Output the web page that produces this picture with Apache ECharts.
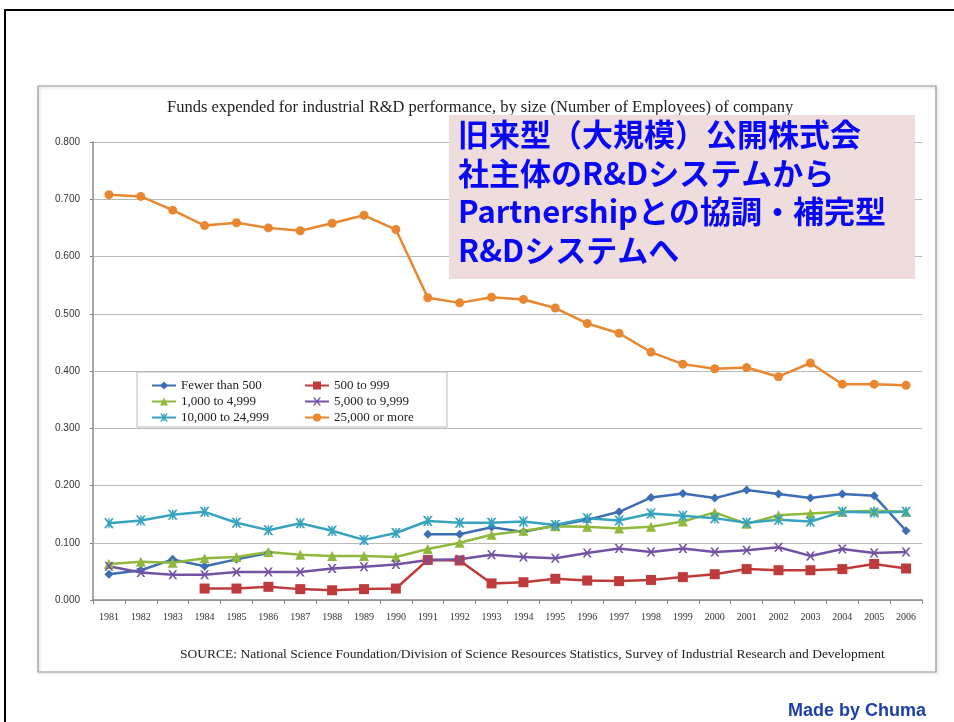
<!DOCTYPE html>
<html>
<head>
<meta charset="utf-8">
<script src="https://cdn.jsdelivr.net/npm/echarts@6/dist/echarts.min.js"></script>
<style>
  html, body { margin: 0; padding: 0; background: #fff; }
  #chart { width: 954px; height: 722px; }
</style>
</head>
<body>
<div id="chart"></div>
<script>
// years on the x axis
const years = ['1981','1982','1983','1984','1985','1986','1987','1988','1989','1990','1991','1992','1993',
               '1994','1995','1996','1997','1998','1999','2000','2001','2002','2003','2004','2005','2006'];

// share of funds by company size
const fewerThan500 = [0.045,0.052,0.071,0.059,0.071,0.082,null,null,null,null,0.115,0.115,0.127,
                      0.119,0.130,0.140,0.154,0.179,0.186,0.178,0.192,0.185,0.178,0.185,0.182,0.121];
const from500 = [null,null,null,0.020,0.020,0.023,0.019,0.017,0.019,0.020,0.070,0.069,0.029,
                 0.031,0.037,0.034,0.033,0.035,0.040,0.045,0.054,0.052,0.052,0.054,0.063,0.055];
const from1000 = [0.063,0.067,0.065,0.073,0.075,0.084,0.079,0.077,0.077,0.075,0.089,0.100,0.114,
                  0.121,0.129,0.128,0.125,0.128,0.137,0.153,0.133,0.148,0.151,0.154,0.156,0.154];
const from5000 = [0.059,0.048,0.044,0.044,0.049,0.049,0.049,0.055,0.058,0.062,0.070,0.071,0.079,
                  0.075,0.073,0.082,0.090,0.084,0.090,0.084,0.087,0.092,0.077,0.089,0.082,0.084];
const from10000 = [0.134,0.139,0.149,0.154,0.135,0.122,0.134,0.121,0.105,0.117,0.138,0.135,0.135,
                   0.137,0.131,0.143,0.139,0.151,0.147,0.143,0.135,0.140,0.137,0.154,0.153,0.154];
const over25000 = [0.708,0.705,0.681,0.654,0.659,0.650,0.645,0.658,0.672,0.647,0.528,0.519,0.529,
                   0.525,0.510,0.483,0.466,0.433,0.412,0.404,0.406,0.390,0.414,0.377,0.377,0.375];

const yTicks = [0, 0.1, 0.2, 0.3, 0.4, 0.5, 0.6, 0.7, 0.8];

const noteLines = ['旧来型（大規模）公開株式会', '社主体のR&Dシステムから', 'Partnershipとの協調・補完型', 'R&Dシステムへ'];

const serif = '"Liberation Serif", "DejaVu Serif", serif';
const xMark = 'path://M0,0 L2.2,0 L5,3.6 L7.8,0 L10,0 L6.2,5 L10,10 L7.8,10 L5,6.4 L2.2,10 L0,10 L3.8,5 Z';
const starMark = 'path://M0,0 L2.2,0 L5,3.6 L7.8,0 L10,0 L6.2,5 L10,10 L7.8,10 L5,6.4 L2.2,10 L0,10 L3.8,5 Z M4.3,0 L5.7,0 L5.7,10 L4.3,10 Z';

function mkSeries(name, data, color, symbol, size) {
  return {
    name: name, type: 'line', data: data,
    symbol: symbol, symbolSize: size, showSymbol: true,
    connectNulls: false,
    lineStyle: { color: color, width: 2.5 },
    itemStyle: { color: color },
    emphasis: { disabled: true }
  };
}

const myChart = echarts.init(document.getElementById('chart'));
const option = {
  backgroundColor: '#fff',
  animation: false,
  title: {
    text: 'Funds expended for industrial R&D performance, by size (Number of Employees) of company',
    left: 162, top: 94,
    textStyle: { fontFamily: serif, fontWeight: 'normal', fontSize: 16.5, color: '#222' }
  },
  grid: { left: 93, right: 32, top: 142, bottom: 122 },
  xAxis: {
    type: 'category', data: years, boundaryGap: true,
    axisLine: { lineStyle: { color: '#888', width: 1.5 } },
    axisTick: { show: true, length: 4, lineStyle: { color: '#888' } },
    axisLabel: { fontFamily: serif, fontSize: 10, color: '#333', margin: 12 }
  },
  yAxis: {
    type: 'value', min: yTicks[0], max: yTicks[yTicks.length - 1], interval: 0.1,
    axisLine: { show: true, lineStyle: { color: '#888', width: 1.5 } },
    axisTick: { show: true, length: 3, lineStyle: { color: '#888' } },
    axisLabel: { fontFamily: '"Liberation Sans", Arial, sans-serif', fontSize: 10, color: '#333', margin: 13,
                 formatter: v => v.toFixed(3) },
    splitLine: { lineStyle: { color: '#b8b8b8', width: 1.2 } }
  },
  legend: [
    {
      data: ['Fewer than 500', '1,000 to 4,999', '10,000 to 24,999'],
      orient: 'vertical', left: 146, top: 374, itemGap: 3, itemWidth: 24, itemHeight: 10,
      textStyle: { fontFamily: serif, fontSize: 13, color: '#222' }
    },
    {
      data: ['500 to 999', '5,000 to 9,999', '25,000 or more'],
      orient: 'vertical', left: 299, top: 374, itemGap: 3, itemWidth: 24, itemHeight: 10,
      textStyle: { fontFamily: serif, fontSize: 13, color: '#222' }
    }
  ],
  graphic: [
    { type: 'rect', shape: { x: 5, y: 10, width: 1000, height: 800 },
      style: { fill: 'none', stroke: '#000', lineWidth: 2 }, z: 1 },
    { type: 'rect', shape: { x: 38, y: 86, width: 898, height: 586 },
      style: { fill: 'none', stroke: '#9a9a9a', lineWidth: 1.2, shadowBlur: 3, shadowColor: 'rgba(0,0,0,0.25)', shadowOffsetX: 1, shadowOffsetY: 1 }, z: 1 },
    { type: 'rect', shape: { x: 137, y: 372, width: 310, height: 55 },
      style: { fill: '#fff', stroke: '#bbb', lineWidth: 1 }, z: 3 },
    { type: 'rect', shape: { x: 449, y: 115, width: 466, height: 164 },
      style: { fill: '#efdcdc' }, z: 20 },
    { type: 'text', left: 458, top: 115, z: 21,
      style: { text: noteLines.join('\n'), fill: '#0808f2', fontSize: 31, lineHeight: 38.5,
               fontWeight: 'bold', fontFamily: '"Noto Sans CJK JP", "Noto Sans", sans-serif' } },
    { type: 'text', left: 180, top: 647, z: 5,
      style: { text: 'SOURCE: National Science Foundation/Division of Science Resources Statistics, Survey of Industrial Research and Development',
               fill: '#222', fontSize: 13.5, fontFamily: serif } },
    { type: 'text', left: 788, top: 702, z: 5,
      style: { text: 'Made by Chuma', fill: '#1d3fa6', fontSize: 18, fontWeight: 'bold',
               fontFamily: '"Liberation Sans", Arial, sans-serif' } }
  ],
  series: [
    mkSeries('Fewer than 500', fewerThan500, '#3d6db4', 'diamond', 9),
    mkSeries('500 to 999', from500, '#bf3b3b', 'rect', 10),
    mkSeries('1,000 to 4,999', from1000, '#8fb83c', 'triangle', 10),
    mkSeries('5,000 to 9,999', from5000, '#7352a2', xMark, 9),
    mkSeries('10,000 to 24,999', from10000, '#38a3bf', starMark, 10),
    mkSeries('25,000 or more', over25000, '#e8872f', 'circle', 9)
  ]
};
myChart.setOption(option);
</script>
</body>
</html>
